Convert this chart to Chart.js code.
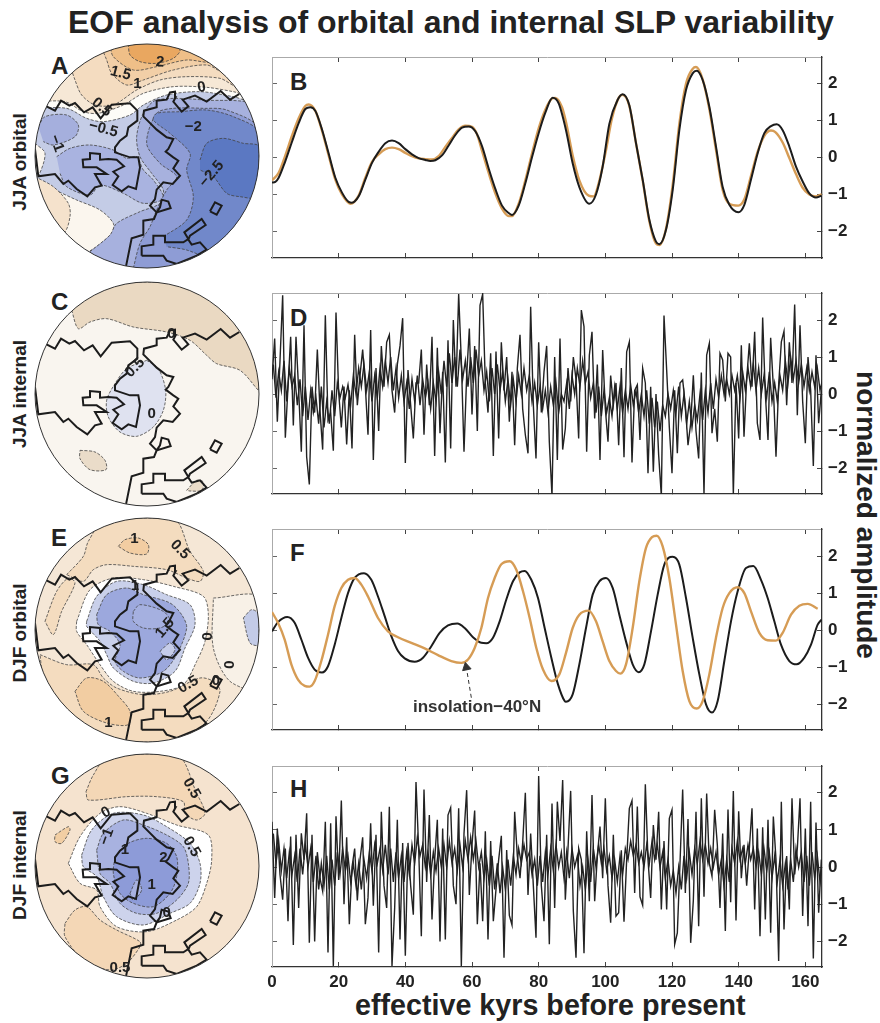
<!DOCTYPE html>
<html>
<head>
<meta charset="utf-8">
<title>EOF analysis</title>
<script src="https://cdn.jsdelivr.net/npm/chart.js@4"></script>
<style>
  html, body { margin: 0; padding: 0; background: #fff; }
  body { position: relative; width: 880px; height: 1023px; overflow: hidden; font-family: "Liberation Sans", Arial, sans-serif; color: #222; }
  canvas { position: absolute; }
  .txt { position: absolute; white-space: nowrap; font-weight: bold; }
  .letter { font-size: 24px; line-height: 24px; color: #222; }
  .side { font-size: 19px; line-height: 20px; transform: translate(-50%, -50%) rotate(-90deg); }
</style>
</head>
<body>
<div class="txt" style="left:68px;top:6px;font-size:32px;line-height:32px;">EOF analysis of orbital and internal SLP variability</div>
<div class="txt" style="left:355px;top:990px;font-size:28.7px;line-height:30px;">effective kyrs before present</div>
<div class="txt" style="left:866px;top:515px;font-size:28px;line-height:30px;transform:translate(-50%,-50%) rotate(90deg);">normalized amplitude</div>
<div class="txt side" style="left:20px;top:162px;">JJA orbital</div>
<div class="txt side" style="left:20px;top:394px;">JJA internal</div>
<div class="txt side" style="left:20px;top:633px;">DJF orbital</div>
<div class="txt side" style="left:20px;top:865px;">DJF internal</div>
<div class="txt letter" style="left:51px;top:54px;">A</div>
<div class="txt letter" style="left:290px;top:70px;">B</div>
<div class="txt letter" style="left:51px;top:290px;">C</div>
<div class="txt letter" style="left:290px;top:306px;">D</div>
<div class="txt letter" style="left:51px;top:526px;">E</div>
<div class="txt letter" style="left:290px;top:541px;">F</div>
<div class="txt letter" style="left:51px;top:764px;">G</div>
<div class="txt letter" style="left:290px;top:777px;">H</div>
<div class="txt" style="left:413px;top:697px;font-size:17px;line-height:20px;color:#333;z-index:5;">insolation&#8722;40&#176;N</div>

<canvas id="mapA" width="244" height="244" style="left:25px;top:34px"></canvas>
<canvas id="mapC" width="244" height="244" style="left:25px;top:272px"></canvas>
<canvas id="mapE" width="244" height="244" style="left:25px;top:508px"></canvas>
<canvas id="mapG" width="244" height="244" style="left:25px;top:744px"></canvas>
<canvas id="plotB" width="600" height="241" style="left:262px;top:47px"></canvas>
<canvas id="plotD" width="600" height="241" style="left:262px;top:283px"></canvas>
<canvas id="plotF" width="600" height="241" style="left:262px;top:519px"></canvas>
<canvas id="plotH" width="600" height="241" style="left:262px;top:756px"></canvas>

<script>
const kyrTicks = [0, 20, 40, 60, 80, 100, 120, 140, 160];
const ampTicks = [-2, -1, 0, 1, 2];
const internalStep = 0.8;

const bKyr = [0,1,2,4,6,8,10,11.5,13,15,17,19,21,23,24,26,28,30,32,34,36,38,40,42,44,46,47.5,49,51,53,55,57,59,61,63,65,67,69,71,72,74,76,78,80,82,84.2,86,88.2,90.2,92.2,95.2,97.2,99.2,101.2,103.7,105.2,107.2,109.2,111.2,113.2,115.2,116.2,118.2,120.2,122.2,124.2,126.2,127.4,129.2,131.2,133.2,135.2,137.2,139.9,141.7,143.7,145.7,147.7,149.7,151.4,153.2,155.2,157.2,159.2,161.2,163.2,164.9];
const bEof = [-0.68,-0.66,-0.55,-0.1,0.42,0.92,1.3,1.35,1.25,0.75,0.1,-0.55,-0.95,-1.2,-1.22,-1.05,-0.6,-0.15,0.15,0.38,0.45,0.38,0.22,0.08,-0.02,-0.07,-0.1,-0.08,0.05,0.32,0.6,0.8,0.83,0.7,0.3,-0.3,-0.85,-1.3,-1.5,-1.55,-1.3,-0.7,0,0.65,1.2,1.6,1.45,0.73,-0.16,-0.8,-1.25,-1,-0.25,0.9,1.55,1.7,1.4,0.38,-0.6,-1.68,-2.27,-2.34,-1.95,-0.88,0.73,1.81,2.26,2.33,2.08,1.36,0.29,-0.8,-1.28,-1.48,-1.28,-0.6,0.11,0.65,0.84,0.89,0.73,0.29,-0.25,-0.65,-0.97,-1.08,-1.03];
const bOrangeKyr = [0,2,4,6,8,10,11,13,15,17,19,21,23.5,26,28,30,32,34,36,38,40,42,44,46,48,50,52,54,56,58,60,61.5,63,65,67,69,71,72,74,76,78,80,82,84,85,87,88.2,90.2,92.2,95,96.5,98,100,102,104,105.2,107.2,109.2,111.2,113.2,115.2,116.2,118.2,120.2,122.2,124.2,126.2,127.2,129.2,131.2,133.2,135.2,137.2,139.9,141.7,143.7,145.7,147.7,149.7,151,153.2,155.2,157.2,159.2,161.2,163.2,164.9];
const bInsolation = [-0.62,-0.42,0.05,0.58,1.05,1.38,1.42,1.25,0.72,0.05,-0.6,-1,-1.25,-1.03,-0.55,-0.12,0.08,0.22,0.26,0.22,0.12,0.03,-0.03,-0.05,-0.06,0.03,0.28,0.52,0.75,0.85,0.82,0.62,0.18,-0.42,-0.97,-1.38,-1.58,-1.58,-1.25,-0.62,0.1,0.78,1.28,1.58,1.6,1.35,0.95,0.05,-0.62,-1.03,-1.05,-0.7,0.1,1.05,1.6,1.68,1.38,0.38,-0.62,-1.72,-2.32,-2.36,-1.92,-0.75,0.9,1.98,2.38,2.43,2.1,1.3,0.2,-0.88,-1.25,-1.3,-1.13,-0.5,0.15,0.58,0.72,0.68,0.4,-0.02,-0.45,-0.82,-1,-1.05,-1];

const dEof = [
  0.4,1.5,-0.75,0.9,2.67,-1.18,0.2,1.55,-0.85,1.55,
  0.1,-1.56,1.86,-1.7,-2.44,0.2,-0.5,1.2,-0.45,-1.5,
  2.13,-0.7,-0.5,-1.53,2.2,0.05,-0.9,0.2,-1.36,0.1,
  -1.47,1.6,-0.3,0.5,1.2,0.2,-1.1,1.73,-1.78,0.7,
  -1,1.3,0.2,1.4,1.6,0.1,-0.5,0.8,1.3,2.05,
  -1.86,0.65,-0.3,-1.2,0.3,0.3,1.2,-1.1,0.8,-0.3,
  1.55,-1.67,1.25,-1.06,0.6,-1.85,1.45,-1.47,2,0.2,
  2.7,0.9,-1.56,0.5,1.77,-0.55,1.3,-1,2.4,2.7,
  0.3,-0.5,1.1,-1.67,1.15,-1.2,1.4,0.1,1,-0.75,
  0.6,-1.38,0.7,1.6,-0.4,-1.1,-1.6,2.36,-0.3,-1.74,
  1.4,-0.5,0.6,1.3,-1.3,-2.75,1,-1.78,1.5,-1.5,
  -0.93,0.7,-0.2,1,0.4,-1.2,2.27,1.82,-1.56,1.05,
  1.68,-0.66,0.8,-1.78,1.19,-0.4,-1.29,0.5,-0.3,0.3,
  -1.38,0.7,-1.71,1.14,1.41,-1.85,0.1,0.25,-1.24,0.7,
  0.3,-2.14,0.2,-2.1,0,-1.65,-2.75,2.12,0.65,-0.9,
  -2.14,0.1,-1.6,0.3,0.38,-0.3,-1.38,-0.8,0.51,-1,
  -1.74,0.58,-2.7,1.05,1.37,-1.06,-0.4,-1.29,1.1,0.92,
  -0.2,1.1,1,-2.7,0.3,-1.2,1.32,-1.15,0.4,1.37,
  0.2,1.68,-0.79,-1.24,2.07,0,-1.24,1.52,0.2,-1.69,
  0.25,1.41,1.7,-0.3,1.4,0.3,2.42,-0.57,1.86,-0.2,
  -1.33,1,0.1,-1.94,1.05,-0.79,0.1
];
// the dark band around each spike in D
const dBand = [
  0.8,-0.1,0.6,0.1,0.9,-0.2,0.7,0.2,0.5,-0.3,
  0.4,-0.6,0.2,-0.7,0.1,-0.5,-0.1,-0.8,0.2,-0.9,
  -0.2,-0.8,0.1,-0.6,0.3,-0.1,0.2,-0.1,0.25,-0.3,
  0.5,0,0.7,0.2,0.8,0.1,0.6,-0.2,0.5,-0.1,
  0.7,0.2,0.9,0.3,1,0.1,0.7,-0.1,0.5,-0.2,
  0.3,-0.4,0.4,-0.2,0.5,-0.3,0.4,-0.1,0.3,-0.4,
  0.3,-0.2,0.6,0,0.9,0.2,1.1,0.3,1,0.2,
  1.2,0.4,0.9,0.2,1,0.3,1.2,0.5,0.9,0.1,
  0.6,-0.2,0.7,0,0.8,0.1,0.6,-0.2,0.4,-0.3,
  0.4,-0.2,0.5,0,0.7,0.1,0.5,-0.2,0.3,-0.3,
  0.2,-0.4,0.1,-0.5,0.2,-0.3,0.3,-0.5,0,-0.2,
  0.3,-0.4,0.5,0,0.7,0.2,0.9,0.3,0.6,-0.1,
  0.3,-0.5,0.2,-0.6,0.1,-0.5,-0.1,-0.6,0.2,-0.4,
  0.2,-0.5,0.1,-0.4,0.25,-0.3,0.1,-0.5,0,-0.6,
  0.1,-0.8,-0.1,-0.9,-0.2,-1,-0.3,-0.6,0,-0.4,
  0.1,-0.5,0.2,-0.6,0,-0.8,-0.2,-0.9,-0.3,-0.7,
  0,-0.7,0.1,-0.5,0.3,-0.4,0.4,-0.1,0.5,0,
  0.4,0,0.5,0.1,0.5,-0.1,0.6,0.1,0.7,0.2,
  0.8,0.1,0.7,0,0.5,-0.1,0.6,-0.2,0.3,-0.2,
  0.5,0.1,0.9,0.3,1,0.4,0.9,0.3,0.8,0.2,
  0.7,0.1,0.6,0.2,0.7,0.1,0.4
];

const fKyr = [0,1.8,4.6,6.8,8.8,10.8,12.8,15,16.8,18.8,20.8,22.8,24.8,27.6,29.8,31.8,33.8,35.8,37.8,39.8,42.8,45.3,47.8,50.3,52.8,55.6,57.8,60.3,62.8,64.3,66.3,68.3,70.3,72.3,74.3,75.8,77.8,79.8,81.8,83.8,85.8,87.8,88.2,90.2,92.2,94.2,96.2,98.2,100.2,102.2,104.2,106.2,108.2,110,111.7,113.7,115.7,117.7,120.2,122.2,124.2,126.2,128.2,130.2,132,133.7,135.7,137.7,139.7,142.2,144.4,146.7,148.7,150.7,152.7,155.2,157.4,159.7,161.7,163.7,164.9];
const fEof = [-0.03,0.22,0.36,0.2,-0.25,-0.74,-1.06,-1.14,-0.97,-0.39,0.33,1,1.41,1.54,1.36,0.91,0.38,-0.16,-0.56,-0.76,-0.85,-0.74,-0.43,-0.07,0.13,0.18,0.06,-0.19,-0.34,-0.35,-0.2,0.24,0.83,1.32,1.56,1.6,1.36,0.87,0.06,-0.74,-1.46,-1.91,-1.93,-1.73,-0.92,0.06,0.96,1.32,1.41,1.14,0.42,-0.3,-0.92,-1.13,-0.92,-0.03,0.96,1.77,1.98,1.77,0.87,-0.2,-1.19,-2,-2.22,-1.91,-0.83,0.24,1.05,1.68,1.73,1.36,0.87,0.24,-0.39,-0.83,-0.92,-0.74,-0.39,0.15,0.29];
const fOrangeKyr = [0,1.8,3.8,5.8,7.8,9.8,11.3,12.8,14.8,16.8,18.8,20.8,22.8,24.8,26.8,28.8,31.8,34.8,37.8,41.8,45.8,49.8,53.8,56.8,58.8,60.8,62.8,64.8,66.8,68.8,71.3,73.3,75.3,77.3,79.3,81.3,83.8,86.2,88.2,90.2,92.2,95,97.2,99.2,101.2,103.2,104.5,106.2,108.2,110.2,112.2,114,115.4,117.2,119.2,121.2,123.2,125.2,127.4,129.2,131.2,133.2,135.2,137.2,139.7,141.7,143.7,146.2,148.7,151.2,153.2,155.7,158.2,160.7,163.7];
const fInsolation = [0.49,0.2,-0.25,-0.92,-1.33,-1.5,-1.52,-1.37,-0.83,-0.12,0.65,1.14,1.36,1.41,1.23,0.91,0.33,-0.03,-0.19,-0.34,-0.49,-0.67,-0.83,-0.88,-0.79,-0.48,0.06,0.87,1.41,1.78,1.86,1.63,1.05,0.33,-0.48,-1.06,-1.37,-1.19,-0.61,0.06,0.42,0.53,0.24,-0.3,-0.83,-1.1,-1.17,-0.92,0.06,1.32,2.22,2.51,2.55,2.26,1.41,0.15,-1.1,-1.91,-2.11,-1.91,-1.19,-0.2,0.6,1,1.16,1,0.51,-0.07,-0.27,-0.28,-0.07,0.42,0.66,0.71,0.58];
const arrowKyr = [59.8, 58.3];
const arrowAmp = [-1.82, -1.0];

const hEof = [
  1.22,-0.83,1.04,-0.2,-0.88,0.5,-1.46,0.82,-2.1,0.87,
  -1.1,0.91,0.2,1.45,-2.04,0.87,-2,0.4,-0.3,-0.65,
  1.22,-2.3,1.18,-2.66,1.37,-0.35,1.79,-1,0.8,-1.54,
  0,0.5,-0.9,0.2,0.8,-1.54,-0.83,1.18,-1.04,0.87,
  -2.3,1.49,-0.5,-1.1,1.62,-2.66,-1.1,1.27,-1.95,0.65,
  -2.39,0.65,-0.5,-1.28,2.29,0.5,-1.86,2.09,-0.4,1.4,
  -1.41,0.2,1.27,-2,1.04,-1.95,1.4,1.6,-0.5,-1,
  1.58,-2.66,0.9,2.07,-0.75,0.6,1.52,-1.54,0.1,-1.46,
  0.96,-1.95,0.7,-1.46,-0.6,0.2,0.84,-2.44,0.46,-1.3,
  -1.56,1.49,0.3,-0.3,0.65,2,-0.75,0.9,-0.5,-1.9,
  2.45,-0.5,-1.46,0.87,-2.08,1.71,-1.1,1.76,0.7,2.34,
  -0.88,0.5,2.05,-1.19,-2.44,0.5,0.2,-2.32,0.96,-0.92,
  1.94,-0.92,0.3,1.09,-0.3,1.85,-0.5,-1.5,0.87,-1.32,
  -1.23,0.45,-1.47,0.2,1.58,1.79,-0.7,1.63,-0.8,-1.03,
  2.23,0.2,-0.83,1.13,0.2,1.49,-1.14,0.7,-1.14,1.31,
  1.54,-2.08,-1.77,0.1,2.09,-0.7,1.29,-2.04,-0.9,1.49,
  -1.59,1.85,-0.8,1.98,0.1,-0.25,1.54,0.6,-1.1,0.9,
  -1.72,1.55,-0.95,2.05,-1.44,1.5,-0.3,0.6,-0.5,0.5,
  1.58,-1.14,1.04,-1.86,1.07,-1.41,1.27,-1.77,1.36,0.2,
  -2.53,1.76,-1.68,0.3,-1.14,1.85,-0.2,0.5,1.85,-1.32,
  1.04,-1.59,1.76,-2.46,1.2,-1.23,0.2
];
// the dark band around each spike in H
const hBand = [
  0.9,0.1,0.7,-0.1,0.5,-0.3,0.4,-0.2,0.3,-0.4,
  0.5,-0.2,0.6,0,0.5,-0.4,0.3,-0.6,0.1,-0.5,
  0.3,-0.6,0.2,-0.5,0.4,-0.2,0.5,-0.1,0.3,-0.4,
  0.1,-0.5,0.1,-0.6,0.2,-0.3,0.4,-0.1,0.6,0.1,
  0.5,-0.1,0.6,-0.2,0.5,-0.4,0.4,-0.3,0.3,-0.4,
  0.4,-0.2,0.6,0.1,0.8,0.3,0.6,0,0.4,-0.2,
  0.4,-0.1,0.5,0,0.6,0,0.7,0.1,0.5,-0.1,
  0.6,0,0.7,0.2,0.8,0.2,0.7,0,0.4,-0.3,
  0.2,-0.5,0.3,-0.6,0.1,-0.7,0,-0.6,0.2,-0.5,
  0.3,-0.2,0.5,0.1,0.6,0.2,0.4,-0.2,0.2,-0.5,
  0.3,-0.4,0.4,-0.2,0.5,-0.1,0.6,0,0.4,-0.3,
  0.4,-0.3,0.5,0,0.3,-0.5,0,-0.6,0.2,-0.4,
  0.5,0,0.6,0.1,0.5,-0.1,0.3,-0.3,0.2,-0.4,
  0.3,-0.2,0.5,0.2,0.7,0.3,0.6,0.1,0.4,0,
  0.6,0.1,0.7,0.2,0.6,0,0.4,-0.3,0.2,-0.5,
  -0.1,-0.7,0,-0.6,0.3,-0.3,0.4,-0.2,0.5,0.1,
  0.7,0.2,0.6,0.1,0.5,0,0.4,-0.2,0.2,-0.5,
  0.2,-0.4,0.5,0.1,0.7,0.2,0.5,0.1,0.6,0.2,
  0.5,0,0.4,-0.2,0.5,-0.1,0.4,-0.3,0.3,-0.4,
  0.2,-0.5,0.1,-0.6,0.2,-0.4,0.5,0,0.4,-0.4,
  0.3,-0.5,0.4,-0.3,0.3,-0.4,0.2
];

// coastline traced in the map frame of panel C
const coastWest = [[105,320],[115,402],[165,395],[190,425],[205,415],[230,440],[262,462],[285,435],[305,430],[285,395],[320,395],[290,375],[250,375],[248,352],[270,350],[270,332],[300,335],[300,352],[325,350],[350,352],[372,372],[340,388],[355,402],[338,428],[365,447],[385,432],[408,440],[420,375],[415,345],[390,345],[345,330],[345,315],[360,295],[380,280],[385,255],[412,235],[412,205],[390,183],[335,187],[302,228],[278,195],[252,210],[225,182],[208,190],[183,175],[165,205],[135,190]];
const coastEast = [[718,155],[690,172],[662,146],[620,178],[585,160],[548,172],[565,192],[545,208],[520,178],[527,165],[525,148],[510,150],[500,172],[470,175],[470,195],[432,205],[430,222],[448,240],[470,262],[500,285],[520,290],[505,320],[497,328],[520,345],[535,355],[520,378],[540,400],[518,425],[490,420],[470,442],[465,470],[450,490],[470,510],[512,497],[505,478],[485,472],[480,495],[470,510],[462,530],[430,535],[430,577],[395,588],[378,672]];
const coastSouth = [[425,640],[425,612],[460,607],[460,580],[495,580],[495,600],[550,600],[565,590],[553,570],[605,530],[617,548],[570,580],[565,592],[575,607],[600,600],[620,622],[590,640],[530,665],[500,655],[490,640],[425,640]];
const coastIsland = [[630,507],[645,480],[665,490],[650,517],[630,507]];

// panel A contours
const a0 = [[105,215],[195,215],[250,245],[295,250],[370,225],[430,190],[520,170],[620,172],[700,185],[777,200],[777,42],[105,42]];
const aMinus05Top = [[105,235],[200,235],[260,265],[310,275],[390,255],[430,225],[500,195],[600,185],[700,200],[777,215],[777,42],[105,42]];
const a05 = [[205,90],[225,150],[245,195],[285,225],[340,225],[410,180],[480,150],[560,140],[660,145],[720,170],[777,42],[105,42]];
const a10 = [[300,42],[320,90],[335,130],[380,165],[430,150],[520,120],[620,105],[680,130],[777,100],[777,42]];
const a15 = [[330,42],[340,80],[400,120],[470,110],[560,90],[640,95],[700,42]];
const a20 = [[385,42],[390,75],[420,95],[470,100],[520,85],[540,60],[500,42]];
const aCream = [[165,480],[230,510],[300,540],[340,580],[335,610],[265,665],[150,700],[105,600],[105,460]];
const aTan = [[105,440],[160,470],[205,520],[210,560],[190,610],[105,620]];
const aSliver = [[105,340],[135,370],[115,440],[105,440]];
const aMinus1Left = [[115,290],[135,260],[200,255],[235,285],[225,320],[160,345],[130,335]];
const aMinus1Mid = [[170,380],[210,355],[270,345],[340,360],[380,385],[410,380],[430,420],[460,450],[490,505],[430,520],[370,490],[300,465],[270,495],[200,470],[180,430]];
const aMinus1Right = [[270,665],[330,615],[350,580],[420,545],[480,520],[490,480],[455,430],[420,380],[410,320],[430,250],[470,210],[610,210],[777,240],[777,714],[300,714]];
const aMinus15 = [[400,714],[420,640],[450,590],[470,540],[500,480],[530,440],[480,400],[440,340],[470,250],[520,235],[610,235],[680,240],[777,300],[777,714]];
const aMinus20 = [[490,620],[560,570],[580,500],[560,420],[570,370],[510,310],[460,270],[470,250],[540,245],[620,240],[700,260],[777,310],[777,714],[640,690],[560,660],[500,650]];
const aMinus25 = [[600,390],[620,340],[670,325],[730,340],[777,350],[777,500],[720,500],[680,490],[640,440],[600,420]];

// panel C contours
const cTop = [[215,90],[235,145],[270,125],[320,115],[400,140],[500,155],[570,180],[620,225],[650,250],[720,270],[775,330],[777,330],[777,5],[105,5],[105,90]];
const cBlue = [[440,240],[475,265],[497,330],[490,390],[460,440],[410,468],[360,455],[325,410],[320,360],[345,310],[380,265],[440,240]];
const cTanWest = [[240,510],[285,515],[315,540],[318,568],[270,568],[240,535],[240,510]];
const cTanSouth = [[560,630],[590,600],[610,605],[605,630],[570,632],[560,630]];

// panel E contours
const eTop = [[200,180],[250,125],[265,80],[320,10],[520,10],[570,110],[610,170],[600,200],[560,190],[500,165],[400,155],[320,150],[280,165],[250,200],[200,180]];
const eStrip = [[135,320],[170,230],[205,190],[225,205],[185,290],[160,360],[135,320]];
const eTop1 = [[355,95],[375,75],[415,70],[445,90],[440,118],[390,115],[355,95]];
const eBottom = [[120,420],[200,450],[280,450],[310,490],[350,520],[430,540],[510,530],[600,490],[640,500],[660,530],[620,620],[520,682],[300,682],[200,590],[130,480],[120,420]];
const eBottom1 = [[225,530],[260,490],[310,500],[360,550],[390,590],[385,630],[320,625],[250,590],[225,530]];
const eEastPale = [[640,250],[777,250],[777,520],[690,500],[640,400],[640,250]];
const eEastBlue = [[730,310],[755,285],[777,300],[777,390],[750,385],[730,310]];
const eWhite = [[230,320],[270,225],[340,190],[430,195],[520,215],[610,245],[625,300],[615,380],[590,440],[550,510],[480,530],[400,530],[340,500],[300,450],[260,390],[230,350],[230,320]];
const eMinus05 = [[260,320],[290,245],[350,200],[430,210],[500,240],[570,270],[585,330],[555,400],[525,470],[460,505],[400,500],[340,460],[320,420],[300,380],[260,335],[260,320]];
const eMinus1 = [[290,300],[320,240],[380,220],[430,240],[510,265],[545,300],[560,340],[530,420],[490,470],[420,490],[370,470],[345,440],[360,390],[330,350],[295,330],[290,300]];
const eMinus15 = [[400,290],[420,270],[490,290],[510,320],[480,340],[430,340],[400,320],[400,290]];
const eSpot = [[480,410],[510,385],[525,405],[500,435],[480,410]];

// panel G contours
const gTop = [[258,125],[280,75],[330,12],[530,12],[590,130],[615,190],[590,210],[555,190],[550,155],[470,140],[380,140],[265,150],[258,125]];
const gDiamond = [[165,255],[205,230],[210,240],[185,280],[165,275],[165,255]];
const gSouthWest = [[195,520],[225,480],[260,470],[300,510],[350,540],[420,575],[420,590],[380,640],[330,660],[250,630],[195,560],[195,520]];
const gWhite = [[205,340],[240,260],[300,190],[360,170],[440,190],[530,225],[625,255],[635,330],[620,400],[590,470],[530,510],[440,545],[350,530],[300,470],[290,420],[240,400],[205,340]];
const gMinus05 = [[245,315],[275,240],[340,190],[430,195],[500,230],[570,280],[600,340],[600,400],[570,460],[510,490],[430,525],[350,500],[310,440],[290,380],[250,350],[245,315]];
const gMinus1 = [[290,300],[310,250],[370,210],[430,225],[500,255],[550,290],[565,340],[565,400],[530,450],[470,490],[410,490],[360,460],[330,400],[300,370],[290,300]];
const gMinus15 = [[345,320],[385,280],[440,265],[500,280],[530,320],[530,380],[510,430],[460,470],[400,460],[360,430],[340,370],[345,320]];
const gSpot = [[390,430],[410,390],[425,420],[400,450],[390,430]];

const mapPanels = [
  { id: "mapA", top: 42, coastShift: 37, base: "#c4cce6",
    layers: [
      [aMinus05Top, "#fdfcf8"], [a0, "#f6e8d6"], [a05, "#f4dcc0"], [a10, "#f2cfa7"], [a15, "#efbf88"], [a20, "#e9a760"],
      [aCream, "#fbf6ee"], [aTan, "#f5e2cc"], [aSliver, "#fbf6ee"],
      [aMinus1Left, "#a5afdd"], [aMinus1Mid, "#a9b3e0"], [aMinus1Right, "#a7b1de"], [aMinus15, "#8e9cd5"], [aMinus20, "#7188ca"], [aMinus25, "#5b78c2"]
    ],
    labels: [["2",480,97,5],["1.5",362,130,15],["1",412,162,0],["0.5",305,232,40],["0",605,172,-10],["\u22120.5",310,297,15],["\u22121",170,340,70],["\u22122",580,290,0],["\u22122.5",635,432,-50]]
  },
  { id: "mapC", top: 5, coastShift: 0, base: "#f9f5ef",
    layers: [[cTop, "#ead9c2"], [cBlue, "#dfe2f0"], [cTanWest, "#eadcc9"], [cTanSouth, "#eadcc9"]],
    labels: [["0.5",405,262,-45],["0",514,160,0],["0",455,400,0]]
  },
  { id: "mapE", top: 10, coastShift: 5, base: "#f5e7d6",
    layers: [
      [eTop, "#f4dcbf"], [eStrip, "#f4dcbf"], [eTop1, "#f2cda2"], [eBottom, "#f4dcbf"], [eBottom1, "#f2cda2"],
      [eEastPale, "#f8f1e7"], [eEastBlue, "#c3cbe7"], [eWhite, "#ffffff"],
      [eMinus05, "#c9d0ea"], [eMinus1, "#9ca8dd"], [eMinus15, "#a5b0e0"], [eSpot, "#c6cde9"]
    ],
    labels: [["1",403,72,0],["0.5",540,105,45],["0",618,365,90],["0",685,450,90],["0",648,500,0],["0.5",565,510,-30],["1",325,625,0],["1.5",495,340,-50],["1",405,213,0]]
  },
  { id: "mapG", top: 12, coastShift: 7, base: "#f5e3cf",
    layers: [
      [gTop, "#f4d7b6"], [gDiamond, "#f2cea3"], [gSouthWest, "#f4d7b6"], [gWhite, "#ffffff"],
      [gMinus05, "#cdd3ec"], [gMinus1, "#a8b2e0"], [gMinus15, "#8d9bd8"], [gSpot, "#a8b2e0"]
    ],
    labels: [["0",318,188,-30],["0.5",575,115,60],["0.5",575,290,60],["\u22121",320,260,-70],["2",490,325,0],["0.5",360,655,0],["0",500,490,0],["1",375,300,0],["1",455,405,0]]
  }
];

const mapSpan = 672;

const toPoints = (list, shift = 0) => list.map(([x, y]) => ({ x: x, y: y + shift }));
const sampled = (values, start = 0) => values.map((v, i) => ({ x: start + i * internalStep, y: v }));
const paired = (xs, ys) => xs.map((x, i) => ({ x: x, y: ys[i] }));
const minusSign = (v) => (v < 0 ? "\u2212" + Math.abs(v) : String(v));

// round clip, rim and contour labels for the maps
const discPlugin = {
  id: "disc",
  beforeDatasetsDraw(chart) {
    const { x, y } = chart.scales;
    const c = chart.ctx;
    c.save();
    c.beginPath();
    c.arc((x.left + x.right) / 2, (y.top + y.bottom) / 2, (x.right - x.left) / 2, 0, Math.PI * 2);
    c.clip();
  },
  afterDatasetsDraw(chart, args, opts) {
    const { x, y } = chart.scales;
    const c = chart.ctx;
    c.restore();
    c.beginPath();
    c.arc((x.left + x.right) / 2, (y.top + y.bottom) / 2, (x.right - x.left) / 2, 0, Math.PI * 2);
    c.strokeStyle = "#333";
    c.lineWidth = 1;
    c.stroke();
    c.fillStyle = "#222";
    c.font = "bold 15px 'Liberation Sans'";
    c.textAlign = "center";
    c.textBaseline = "middle";
    opts.labels.forEach(([t, lx, ly, rot]) => {
      c.save();
      c.translate(x.getPixelForValue(lx), y.getPixelForValue(ly));
      c.rotate(rot * Math.PI / 180);
      c.fillText(t, 0, 0);
      c.restore();
    });
  }
};

mapPanels.forEach((p) => {
  const sets = [];
  sets.push({ data: toPoints([[105, p.top], [777, p.top], [777, p.top + mapSpan], [105, p.top + mapSpan]]), backgroundColor: p.base, borderWidth: 0, fill: "shape" });
  p.layers.forEach(([pts, col]) => {
    sets.push({ data: toPoints(pts), backgroundColor: col, borderColor: "#444", borderWidth: 0.8, borderDash: [3, 1.5], fill: "shape", tension: 0.3 });
  });
  [coastWest, coastEast, coastSouth, coastIsland].forEach((seg) => {
    sets.push({ data: toPoints(seg, p.coastShift), borderColor: "#1c1c1c", borderWidth: 2, fill: false, tension: 0 });
  });
  sets.forEach((s, i) => {
    s.order = sets.length - i;
    s.showLine = true;
    s.pointRadius = 0;
  });
  new Chart(document.getElementById(p.id), {
    type: "scatter",
    data: { datasets: sets },
    options: {
      responsive: false,
      animation: false,
      events: [],
      layout: { padding: 10 },
      plugins: { legend: { display: false }, tooltip: { enabled: false }, disc: { labels: p.labels } },
      scales: {
        x: { display: false, min: 105, max: 105 + mapSpan },
        y: { display: false, reverse: true, min: p.top, max: p.top + mapSpan }
      }
    },
    plugins: [discPlugin]
  });
});

// fixed axis box, no extra room for overhanging tick labels
const fitAxis = (w, h) => (a) => {
  if (w !== null) a.width = w;
  if (h !== null) a.height = h;
  a.paddingLeft = a.paddingRight = a.paddingTop = a.paddingBottom = 0;
};

function timePlot(id, datasets, yMin, yMax, showKyr) {
  const setTicks = (list) => (axis) => { axis.ticks = list.map((v) => ({ value: v })); };
  const faint = { display: false };
  new Chart(document.getElementById(id), {
    type: "scatter",
    data: { datasets: datasets },
    options: {
      responsive: false,
      animation: false,
      events: [],
      layout: { padding: { left: 10, top: 10, right: 0, bottom: 0 } },
      plugins: { legend: { display: false }, tooltip: { enabled: false } },
      scales: {
        x: {
          type: "linear", position: "bottom", min: 0, max: 165,
          afterBuildTicks: setTicks(kyrTicks),
          afterFit: fitAxis(null, 30),
          border: { color: "#333", width: 1.3 },
          grid: { drawOnChartArea: false, tickLength: -5, color: "#444" },
          ticks: { display: showKyr, color: "#222", padding: 10, maxRotation: 0, autoSkip: false, font: { family: "Liberation Sans", size: 17, weight: "bold" } }
        },
        xTop: {
          type: "linear", axis: "x", position: "top", min: 0, max: 165,
          afterBuildTicks: setTicks(kyrTicks),
          afterFit: fitAxis(null, 0),
          border: { color: "#aaa", width: 1 },
          grid: { drawOnChartArea: false, tickLength: -5, color: "#444" },
          ticks: faint
        },
        y: {
          type: "linear", position: "right", min: yMin, max: yMax,
          afterBuildTicks: setTicks(ampTicks),
          afterFit: fitAxis(40, null),
          border: { color: "#333", width: 1.3 },
          grid: { drawOnChartArea: false, tickLength: -5, color: "#444" },
          ticks: { color: "#222", padding: 11, autoSkip: false, callback: minusSign, font: { family: "Liberation Sans", size: 17, weight: "bold" } }
        },
        yLeft: {
          type: "linear", axis: "y", position: "left", min: yMin, max: yMax,
          afterBuildTicks: setTicks(ampTicks),
          afterFit: fitAxis(0, null),
          border: { color: "#aaa", width: 1 },
          grid: { drawOnChartArea: false, tickLength: -5, color: "#666" },
          ticks: faint
        }
      }
    }
  });
}

const curve = (pts, color, width, order) => ({ data: pts, borderColor: color, borderWidth: width, showLine: true, pointRadius: 0, cubicInterpolationMode: "monotone", fill: false, order: order });
const noise = (pts, width) => ({ data: pts, borderColor: "#222", borderWidth: width, showLine: true, pointRadius: 0, tension: 0, fill: false });
const orange = "#d69c55";

timePlot("plotB", [curve(paired(bKyr, bEof), "#1c1c1c", 2, 1), curve(paired(bOrangeKyr, bInsolation), orange, 2.4, 2)], -2.71, 2.70, false);
timePlot("plotD", [noise(sampled(dEof), 1.4), noise(sampled(dBand, 0.4), 1.4)], -2.70, 2.73, false);
timePlot("plotF", [
  curve(paired(fKyr, fEof), "#1c1c1c", 2, 2),
  curve(paired(fOrangeKyr, fInsolation), orange, 2.4, 1),
  { data: paired(arrowKyr, arrowAmp), borderColor: "#333", backgroundColor: "#333", borderWidth: 1, borderDash: [4, 3], showLine: true, pointRadius: [0, 5], pointStyle: "triangle", pointRotation: -12, fill: false, order: 0 }
], -2.69, 2.73, false);
timePlot("plotH", [noise(sampled(hEof), 1.4), noise(sampled(hBand, 0.4), 1.4)], -2.69, 2.72, true);
</script>
</body>
</html>
